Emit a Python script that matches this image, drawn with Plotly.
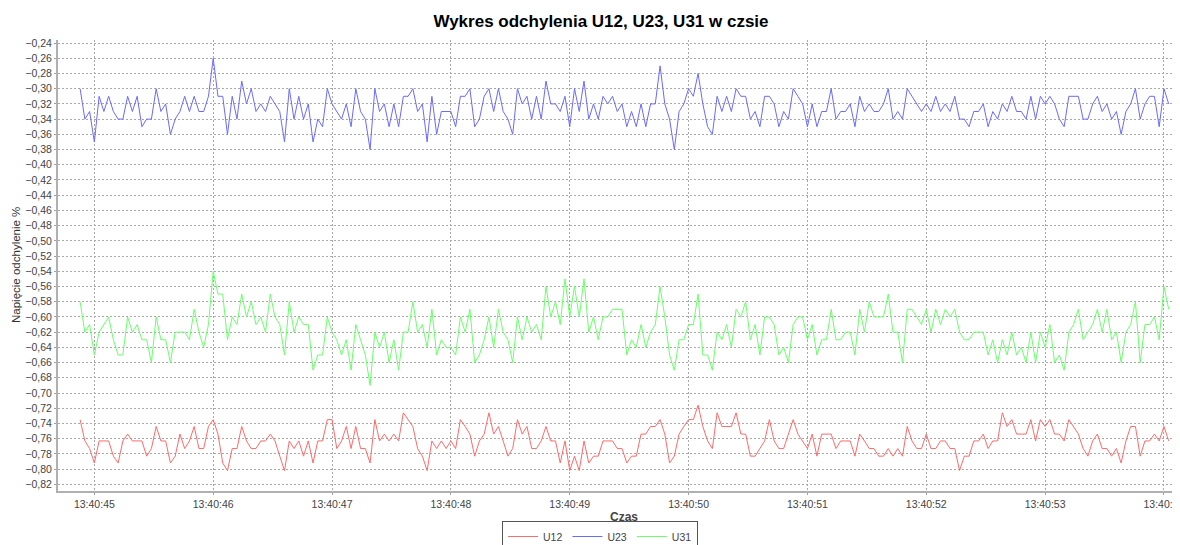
import pandas as pd
import plotly.graph_objects as go

start_time = "2024-01-01 13:40:44.880"
sample_ms = 40

u23 = [-0.30,-0.34,-0.33,-0.37,-0.31,-0.33,-0.31,-0.33,-0.34,-0.34,
       -0.31,-0.33,-0.31,-0.35,-0.34,-0.34,-0.30,-0.33,-0.32,-0.36,
       -0.34,-0.33,-0.31,-0.33,-0.31,-0.33,-0.33,-0.31,-0.26,-0.31,
       -0.31,-0.36,-0.31,-0.34,-0.29,-0.32,-0.30,-0.33,-0.32,-0.33,
       -0.31,-0.32,-0.33,-0.37,-0.30,-0.34,-0.31,-0.34,-0.32,-0.37,
       -0.34,-0.35,-0.30,-0.32,-0.33,-0.34,-0.32,-0.35,-0.30,-0.33,
       -0.34,-0.38,-0.30,-0.33,-0.32,-0.35,-0.32,-0.35,-0.31,-0.31,
       -0.30,-0.33,-0.32,-0.37,-0.31,-0.36,-0.33,-0.33,-0.33,-0.35,
       -0.31,-0.31,-0.30,-0.35,-0.34,-0.31,-0.30,-0.33,-0.30,-0.33,
       -0.34,-0.36,-0.30,-0.32,-0.31,-0.34,-0.31,-0.34,-0.29,-0.32,
       -0.32,-0.33,-0.31,-0.35,-0.30,-0.33,-0.29,-0.34,-0.32,-0.34,
       -0.31,-0.32,-0.31,-0.33,-0.32,-0.35,-0.33,-0.35,-0.32,-0.35,
       -0.32,-0.32,-0.27,-0.32,-0.34,-0.38,-0.33,-0.32,-0.30,-0.31,
       -0.28,-0.32,-0.35,-0.36,-0.31,-0.33,-0.31,-0.33,-0.30,-0.31,
       -0.31,-0.34,-0.33,-0.35,-0.31,-0.31,-0.32,-0.35,-0.33,-0.34,
       -0.30,-0.31,-0.32,-0.35,-0.32,-0.35,-0.33,-0.33,-0.30,-0.34,
       -0.33,-0.33,-0.32,-0.35,-0.31,-0.33,-0.32,-0.33,-0.33,-0.32,
       -0.30,-0.34,-0.33,-0.34,-0.30,-0.31,-0.32,-0.33,-0.32,-0.33,
       -0.31,-0.33,-0.32,-0.33,-0.31,-0.34,-0.34,-0.35,-0.33,-0.33,
       -0.32,-0.35,-0.33,-0.34,-0.32,-0.33,-0.31,-0.33,-0.33,-0.34,
       -0.31,-0.34,-0.31,-0.32,-0.31,-0.32,-0.34,-0.35,-0.31,-0.31,
       -0.31,-0.34,-0.34,-0.32,-0.31,-0.33,-0.32,-0.34,-0.33,-0.36,
       -0.33,-0.32,-0.30,-0.34,-0.32,-0.31,-0.31,-0.35,-0.30,-0.32]

u31 = [-0.58,-0.62,-0.61,-0.65,-0.62,-0.61,-0.60,-0.63,-0.65,-0.65,
       -0.60,-0.62,-0.61,-0.63,-0.63,-0.66,-0.60,-0.63,-0.63,-0.66,
       -0.62,-0.62,-0.62,-0.63,-0.59,-0.62,-0.64,-0.61,-0.54,-0.57,
       -0.57,-0.63,-0.60,-0.61,-0.57,-0.60,-0.58,-0.61,-0.60,-0.62,
       -0.57,-0.60,-0.61,-0.65,-0.58,-0.62,-0.60,-0.61,-0.61,-0.67,
       -0.65,-0.65,-0.60,-0.62,-0.63,-0.65,-0.63,-0.67,-0.61,-0.63,
       -0.65,-0.69,-0.62,-0.64,-0.62,-0.66,-0.63,-0.67,-0.62,-0.62,
       -0.58,-0.62,-0.61,-0.64,-0.59,-0.65,-0.63,-0.64,-0.64,-0.65,
       -0.60,-0.62,-0.59,-0.66,-0.65,-0.63,-0.60,-0.64,-0.59,-0.62,
       -0.63,-0.66,-0.60,-0.63,-0.60,-0.62,-0.61,-0.63,-0.56,-0.60,
       -0.58,-0.61,-0.55,-0.60,-0.56,-0.60,-0.55,-0.62,-0.60,-0.63,
       -0.60,-0.60,-0.59,-0.59,-0.59,-0.65,-0.63,-0.64,-0.61,-0.64,
       -0.62,-0.61,-0.56,-0.60,-0.65,-0.67,-0.63,-0.63,-0.61,-0.61,
       -0.57,-0.65,-0.65,-0.67,-0.62,-0.63,-0.61,-0.64,-0.59,-0.60,
       -0.58,-0.63,-0.61,-0.65,-0.60,-0.60,-0.61,-0.65,-0.64,-0.66,
       -0.61,-0.60,-0.60,-0.63,-0.61,-0.65,-0.63,-0.63,-0.59,-0.63,
       -0.63,-0.62,-0.62,-0.65,-0.59,-0.62,-0.58,-0.60,-0.60,-0.60,
       -0.57,-0.62,-0.62,-0.66,-0.59,-0.59,-0.60,-0.61,-0.59,-0.62,
       -0.59,-0.61,-0.59,-0.60,-0.59,-0.62,-0.63,-0.63,-0.62,-0.62,
       -0.62,-0.65,-0.63,-0.66,-0.63,-0.65,-0.62,-0.65,-0.64,-0.66,
       -0.62,-0.66,-0.62,-0.64,-0.61,-0.66,-0.65,-0.67,-0.62,-0.61,
       -0.59,-0.63,-0.62,-0.61,-0.59,-0.62,-0.59,-0.63,-0.62,-0.66,
       -0.62,-0.61,-0.58,-0.66,-0.61,-0.61,-0.60,-0.63,-0.56,-0.59]

u12 = [-0.735,-0.763,-0.773,-0.792,-0.763,-0.763,-0.763,-0.783,-0.792,-0.763,
       -0.754,-0.763,-0.763,-0.763,-0.783,-0.773,-0.744,-0.763,-0.763,-0.792,
       -0.783,-0.754,-0.773,-0.763,-0.744,-0.773,-0.773,-0.744,-0.735,-0.754,
       -0.792,-0.802,-0.773,-0.773,-0.744,-0.763,-0.773,-0.773,-0.763,-0.763,
       -0.754,-0.763,-0.783,-0.802,-0.763,-0.773,-0.763,-0.783,-0.763,-0.792,
       -0.763,-0.763,-0.735,-0.735,-0.773,-0.763,-0.744,-0.773,-0.744,-0.773,
       -0.773,-0.792,-0.735,-0.763,-0.754,-0.763,-0.754,-0.763,-0.726,-0.735,
       -0.744,-0.773,-0.783,-0.802,-0.763,-0.773,-0.763,-0.773,-0.763,-0.773,
       -0.735,-0.744,-0.754,-0.783,-0.763,-0.754,-0.726,-0.754,-0.744,-0.763,
       -0.783,-0.773,-0.735,-0.754,-0.744,-0.773,-0.773,-0.763,-0.744,-0.763,
       -0.763,-0.792,-0.763,-0.802,-0.783,-0.802,-0.763,-0.792,-0.783,-0.783,
       -0.763,-0.763,-0.763,-0.773,-0.773,-0.792,-0.783,-0.783,-0.754,-0.754,
       -0.744,-0.744,-0.735,-0.754,-0.792,-0.783,-0.754,-0.744,-0.735,-0.735,
       -0.716,-0.744,-0.763,-0.773,-0.726,-0.744,-0.744,-0.744,-0.726,-0.754,
       -0.754,-0.783,-0.783,-0.773,-0.763,-0.735,-0.763,-0.773,-0.773,-0.754,
       -0.735,-0.754,-0.763,-0.773,-0.754,-0.783,-0.754,-0.754,-0.754,-0.773,
       -0.763,-0.763,-0.763,-0.783,-0.754,-0.763,-0.773,-0.773,-0.783,-0.783,
       -0.773,-0.783,-0.773,-0.783,-0.744,-0.763,-0.773,-0.773,-0.754,-0.773,
       -0.773,-0.763,-0.763,-0.773,-0.773,-0.802,-0.783,-0.783,-0.763,-0.763,
       -0.754,-0.773,-0.763,-0.763,-0.726,-0.744,-0.735,-0.754,-0.754,-0.754,
       -0.735,-0.763,-0.735,-0.744,-0.735,-0.754,-0.754,-0.763,-0.735,-0.744,
       -0.754,-0.773,-0.783,-0.763,-0.754,-0.773,-0.773,-0.783,-0.773,-0.792,
       -0.763,-0.744,-0.744,-0.783,-0.763,-0.763,-0.754,-0.763,-0.744,-0.763]

series_names = ["U12", "U23", "U31"]
series_colors = ["#ff6a6a", "#6a6aff", "#6aff6a"]
y_ticks_min, y_ticks_max = -0.82, -0.24

times = pd.date_range(start_time, periods=len(u12), freq=f"{sample_ms}ms")

fig = go.Figure()
for name, vals, col in zip(series_names, [u12, u23, u31], series_colors):
    fig.add_trace(go.Scatter(x=times, y=vals, mode="lines", name=name,
                             line=dict(color=col, width=1)))

FONT = "Liberation Sans, Arial, sans-serif"
tick_font = dict(family=FONT, size=10.5, color="#444444")

# the page body adds an 8px offset; the figure is sized so it fills the window
W, H = 1172, 537
L, T, B = 50, 32, 54
plot_w, plot_h = W - L, H - T - B

fig.update_layout(
    width=W, height=H,
    margin=dict(l=L, r=0, t=T, b=B, autoexpand=False),
    paper_bgcolor="white", plot_bgcolor="white",
    separators=", ",
    title=dict(text="<b>Wykres odchylenia U12, U23, U31 w czsie</b>",
               x=593/W, xref="container", xanchor="center",
               y=1-13/H, yref="container", yanchor="middle",
               font=dict(family=FONT, size=17, color="#000000")),
    showlegend=True,
    legend=dict(orientation="h", x=592/W, xref="container", xanchor="center",
                y=1-513/H, yref="container", yanchor="top",
                bordercolor="#555555", borderwidth=1, bgcolor="white",
                font=dict(family=FONT, size=10.5, color="#444444"),
                itemwidth=30, tracegroupgap=0),
    annotations=[
        dict(text="<b>Czas</b>", xref="paper", yref="paper",
             x=(616-L)/plot_w, y=(H-B-509)/plot_h, xanchor="center", yanchor="middle",
             showarrow=False, font=dict(family=FONT, size=12, color="#444444")),
        dict(text="Napięcie odchylenie %", xref="paper", yref="paper",
             x=(8-L)/plot_w, y=(H-B-257)/plot_h, xanchor="center", yanchor="middle",
             textangle=-90, showarrow=False,
             font=dict(family=FONT, size=11.5, color="#333333")),
    ],
)

fig.update_xaxes(
    type="date", automargin=False,
    range=["2024-01-01 13:40:44.694", "2024-01-01 13:40:54.135"],
    dtick=1000, tick0="2024-01-01 13:40:45", tickformat="%H:%M:%S",
    showgrid=True, gridcolor="#a8a8a8", griddash="2px,2px", gridwidth=1,
    showline=True, linecolor="#b0b0b0", linewidth=2, mirror=False,
    ticks="outside", ticklen=2, tickcolor="#a0a0a0",
    tickfont=tick_font, ticklabeloverflow="allow",
    zeroline=False,
)
fig.update_yaxes(
    automargin=False,
    range=[-0.8288, -0.236],
    tick0=y_ticks_min, dtick=0.02, tickformat=".2f",
    showgrid=True, gridcolor="#a8a8a8", griddash="2px,2px", gridwidth=1,
    showline=True, linecolor="#b0b0b0", linewidth=2,
    ticks="outside", ticklen=2, tickcolor="#a0a0a0",
    tickfont=tick_font,
    zeroline=False,
)

fig.write_html("out.html")
